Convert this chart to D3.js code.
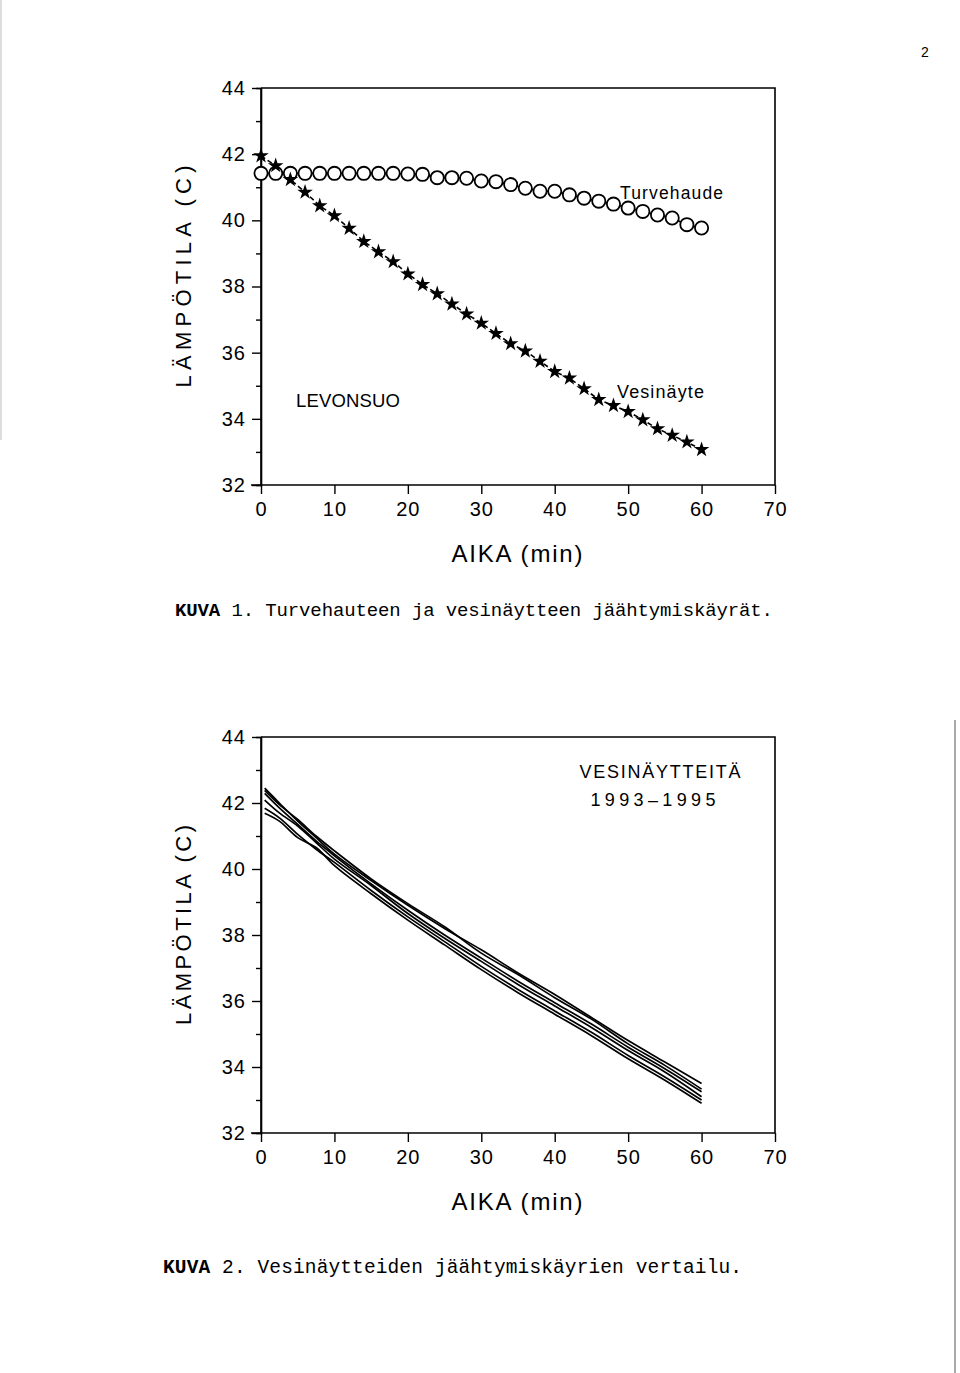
<!DOCTYPE html>
<html><head><meta charset="utf-8">
<script src="https://cdn.jsdelivr.net/npm/d3@7"></script>
<style>body{margin:0;background:#fff}svg{display:block}</style>
</head><body>
<svg id="c" width="960" height="1373"></svg>
<script>
// ---------- DATA ----------
const yTicks = [32, 34, 36, 38, 40, 42, 44];
const yMinorTicks = [33, 35, 37, 39, 41, 43];
const xTicks = [0, 10, 20, 30, 40, 50, 60, 70];

// Figure 1 (2-minute readings)
const timeTop = [0,2,4,6,8,10,12,14,16,18,20,22,24,26,28,30,32,34,36,38,40,42,44,46,48,50,52,54,56,58,60];
const turvehaude = [41.42,41.42,41.42,41.42,41.42,41.42,41.42,41.42,41.42,41.42,41.40,41.39,41.29,41.29,41.27,41.19,41.17,41.08,40.97,40.88,40.88,40.77,40.67,40.58,40.49,40.37,40.27,40.16,40.07,39.87,39.77];
const vesinayte = [41.95,41.65,41.23,40.85,40.44,40.14,39.76,39.36,39.05,38.75,38.38,38.06,37.78,37.47,37.17,36.89,36.58,36.27,36.05,35.74,35.43,35.23,34.91,34.58,34.40,34.22,33.97,33.70,33.50,33.30,33.07];

// Figure 2 (samples 1993-1995)
const timeBottom = [0.5, 2.5, 5, 7.5, 10, 15, 20, 25, 30, 35, 40, 45, 50, 55, 60];
const sample1 = [42.45,42.00,41.45,40.95,40.45,39.65,38.90,38.20,37.55,36.85,36.20,35.50,34.80,34.15,33.50];
const sample2 = [42.38,41.95,41.50,41.00,40.55,39.70,38.95,38.25,37.45,36.80,36.10,35.45,34.70,34.05,33.33];
const sample3 = [42.29,41.85,41.35,40.85,40.40,39.55,38.75,38.00,37.30,36.60,35.95,35.30,34.60,33.95,33.25];
const sample4 = [42.09,41.70,41.30,40.80,40.30,39.50,38.65,37.90,37.20,36.50,35.85,35.20,34.50,33.85,33.10];
const sample5 = [41.84,41.55,41.05,40.60,40.20,39.35,38.55,37.80,37.05,36.35,35.70,35.05,34.35,33.70,33.00];
const sample6 = [41.69,41.45,40.95,40.65,40.10,39.25,38.45,37.70,36.95,36.25,35.60,34.95,34.25,33.60,32.90];
const samples = [sample1, sample2, sample3, sample4, sample5, sample6];

// ---------- DRAW ----------
const svg = d3.select('#c');
svg.append('rect').attr('width',960).attr('height',1373).attr('fill','#fff');
const SANS = "'Liberation Sans', Arial, sans-serif";
const MONO = "'Liberation Mono', 'Courier New', monospace";

// scan edges
svg.append('line').attr('x1',955).attr('x2',955).attr('y1',720).attr('y2',1373).attr('stroke','#555').attr('stroke-width',1);
svg.append('line').attr('x1',1).attr('x2',1).attr('y1',0).attr('y2',440).attr('stroke','#bbb').attr('stroke-width',1);

svg.append('text').attr('x',925).attr('y',57).attr('font-family',SANS).attr('font-size',14).attr('text-anchor','middle').text('2');

function makeChart(top, bottom, titleLen) {
  const x = d3.scaleLinear().domain([0,70]).range([261,775]);
  const y = d3.scaleLinear().domain([32,44]).range([bottom, top]);
  const g = svg.append('g');
  g.append('path').attr('d', `M${x(0)},${y(44)}H${x(70)}V${y(32)}`).attr('fill','none').attr('stroke','#000').attr('stroke-width',1.6);
  const ya = g.append('g').attr('transform',`translate(${x(0)},0)`)
    .call(d3.axisLeft(y).tickValues(yTicks).tickSize(9).tickPadding(6).tickFormat(d3.format('d')));
  g.append('g').attr('transform',`translate(${x(0)},0)`)
    .call(d3.axisLeft(y).tickValues(yMinorTicks).tickSize(5).tickFormat(''));
  const xa = g.append('g').attr('transform',`translate(0,${y(32)})`)
    .call(d3.axisBottom(x).tickValues(xTicks).tickSize(9).tickPadding(8).tickFormat(d3.format('d')));
  g.selectAll('.domain').attr('stroke-width',1.6);
  g.selectAll('.tick line').attr('stroke-width',1.4);
  g.selectAll('.tick text').attr('font-family',SANS).attr('font-size',20).attr('fill','#000').attr('letter-spacing',1);
  xa.select('.domain').attr('d', `M${x(0)-10},0H${x(70)}`);
  ya.select('.domain').attr('d', `M0,${y(44)}V${y(32)}`);
  const cy = (top + bottom) / 2 - 10;
  g.append('text').attr('transform',`translate(191,${cy}) rotate(-90)`).attr('text-anchor','middle')
    .attr('font-family',SANS).attr('font-size',22).attr('textLength',titleLen).attr('lengthAdjust','spacing').text('LÄMPÖTILA (C)');
  g.append('text').attr('x',517).attr('y',bottom + 77).attr('text-anchor','middle')
    .attr('font-family',SANS).attr('font-size',24).attr('textLength',131).attr('lengthAdjust','spacing').text('AIKA (min)');
  return {x, y, g};
}

// Chart 1
const c1 = makeChart(88, 485, 222);
const pts = (ts, vs) => ts.map((t,i)=>[t, vs[i]]);
const line1 = d3.line().x(d=>c1.x(d[0])).y(d=>c1.y(d[1]));
c1.g.append('path').attr('d', line1(pts(timeTop, vesinayte))).attr('fill','none').attr('stroke','#000').attr('stroke-width',1.6).attr('stroke-dasharray','5,3');
c1.g.append('path').attr('d', line1(pts(timeTop, turvehaude))).attr('fill','none').attr('stroke','#000').attr('stroke-width',1.6);
c1.g.selectAll('.circ').data(pts(timeTop, turvehaude)).join('circle')
  .attr('cx',d=>c1.x(d[0])).attr('cy',d=>c1.y(d[1])).attr('r',6.6)
  .attr('fill','#fff').attr('stroke','#000').attr('stroke-width',1.8);
c1.g.selectAll('.star').data(pts(timeTop, vesinayte)).join('path')
  .attr('transform',d=>`translate(${c1.x(d[0])},${c1.y(d[1])})`)
  .attr('d', d3.symbol(d3.symbolStar, 75)()).attr('fill','#000');
c1.g.append('text').attr('x',620).attr('y',199).attr('font-family',SANS).attr('font-size',17.5).attr('textLength',103).attr('lengthAdjust','spacing').text('Turvehaude');
c1.g.append('text').attr('x',617).attr('y',398).attr('font-family',SANS).attr('font-size',18).attr('textLength',87).attr('lengthAdjust','spacing').text('Vesinäyte');
c1.g.append('text').attr('x',296).attr('y',407).attr('font-family',SANS).attr('font-size',18.5).attr('textLength',104).attr('lengthAdjust','spacing').text('LEVONSUO');

const cap1 = svg.append('text').attr('x',175).attr('y',616).attr('font-family',MONO).attr('font-size',19).attr('textLength',598).attr('lengthAdjust','spacing');
cap1.append('tspan').attr('font-weight','bold').text('KUVA');
cap1.append('tspan').text(' 1. Turvehauteen ja vesinäytteen jäähtymiskäyrät.');

// Chart 2
const c2 = makeChart(737, 1133, 200);
const line2 = d3.line().x(d=>c2.x(d[0])).y(d=>c2.y(d[1])).curve(d3.curveCatmullRom.alpha(0.5));
c2.g.selectAll('.smp').data(samples).join('path')
  .attr('d', s => line2(pts(timeBottom, s))).attr('fill','none').attr('stroke','#000').attr('stroke-width',1.7);
c2.g.append('text').attr('x',660).attr('y',778).attr('text-anchor','middle').attr('font-family',SANS).attr('font-size',18).attr('textLength',161).attr('lengthAdjust','spacing').text('VESINÄYTTEITÄ');
c2.g.append('text').attr('x',653).attr('y',806).attr('text-anchor','middle').attr('font-family',SANS).attr('font-size',18).attr('textLength',125).attr('lengthAdjust','spacing').text('1993–1995');

const cap2 = svg.append('text').attr('x',163).attr('y',1273).attr('font-family',MONO).attr('font-size',19.5).attr('textLength',579).attr('lengthAdjust','spacing');
cap2.append('tspan').attr('font-weight','bold').text('KUVA');
cap2.append('tspan').text(' 2. Vesinäytteiden jäähtymiskäyrien vertailu.');
</script>
</body></html>
